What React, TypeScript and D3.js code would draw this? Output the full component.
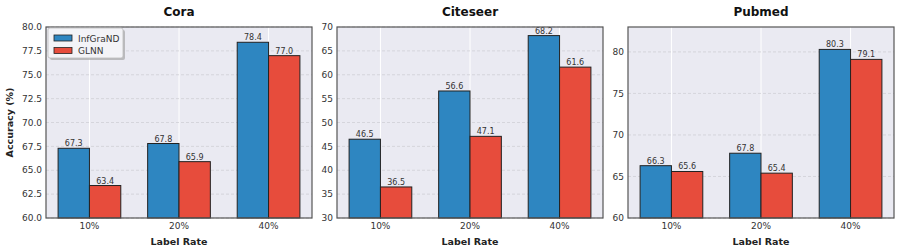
import React, { useEffect, useRef } from "react";
import * as d3 from "d3";

const rates = ["10%", "20%", "40%"];
const datasets = ["Cora", "Citeseer", "Pubmed"];
const infgrand = [
  [67.3, 67.8, 78.4],
  [46.5, 56.6, 68.2],
  [66.3, 67.8, 80.3],
];
const glnn = [
  [63.4, 65.9, 77.0],
  [36.5, 47.1, 61.6],
  [65.6, 65.4, 79.1],
];
const yDomains: [number, number][] = [
  [60, 80],
  [30, 70],
  [60, 83],
];
const yTicks = [
  [60, 62.5, 65, 67.5, 70, 72.5, 75, 77.5, 80],
  [30, 35, 40, 45, 50, 55, 60, 65, 70],
  [60, 65, 70, 75, 80],
];
const tickFormats = [".1f", "d", "d"];
const seriesNames = ["InfGraND", "GLNN"];
const colors = ["#2E86C1", "#E74C3C"];

const W = 897;
const H = 252;
const panelLefts = [46, 337, 628];
const panelW = 266;
const top = 27;
const bottom = 218;
const barW = 0.35;
const font = "DejaVu Sans, sans-serif";

const App = () => {
  const svgRef = useRef<SVGSVGElement>(null);

  useEffect(() => {
    const svg = d3.select(svgRef.current);
    svg.selectAll("*").remove();
    svg.style("font-family", font);

    datasets.forEach((name, i) => {
      const left = panelLefts[i];
      const x = d3.scaleLinear().domain([-0.485, 2.485]).range([left, left + panelW]);
      const y = d3.scaleLinear().domain(yDomains[i]).range([bottom, top]);
      const g = svg.append("g");

      g.append("rect")
        .attr("x", left)
        .attr("y", top)
        .attr("width", panelW)
        .attr("height", bottom - top)
        .attr("fill", "#EAEAF2");

      // vertical white grid at categories
      g.selectAll(".vg")
        .data(rates)
        .enter()
        .append("line")
        .attr("x1", (_, j) => x(j))
        .attr("x2", (_, j) => x(j))
        .attr("y1", top)
        .attr("y2", bottom)
        .attr("stroke", "#ffffff")
        .attr("stroke-width", 1);

      // horizontal dashed grid
      g.selectAll(".hg")
        .data(yTicks[i])
        .enter()
        .append("line")
        .attr("x1", left)
        .attr("x2", left + panelW)
        .attr("y1", (d) => y(d))
        .attr("y2", (d) => y(d))
        .attr("stroke", "#cfcfd6")
        .attr("stroke-width", 0.8)
        .attr("stroke-dasharray", "3,2");

      const series = [infgrand[i], glnn[i]];
      series.forEach((vals, s) => {
        const off = s === 0 ? -barW / 2 : barW / 2;
        g.selectAll(".bar" + s)
          .data(vals)
          .enter()
          .append("rect")
          .attr("x", (_, j) => x(j + off - barW / 2))
          .attr("width", x(barW) - x(0))
          .attr("y", (d) => y(d))
          .attr("height", (d) => bottom - y(d))
          .attr("fill", colors[s])
          .attr("stroke", "#222")
          .attr("stroke-width", 1);

        g.selectAll(".lbl" + s)
          .data(vals)
          .enter()
          .append("text")
          .attr("x", (_, j) => x(j + off))
          .attr("y", (d) => y(d) - 2)
          .attr("text-anchor", "middle")
          .attr("font-size", 8)
          .attr("fill", "#333")
          .text((d) => d.toFixed(1));
      });

      // frame
      g.append("rect")
        .attr("x", left)
        .attr("y", top)
        .attr("width", panelW)
        .attr("height", bottom - top)
        .attr("fill", "none")
        .attr("stroke", "#555")
        .attr("stroke-width", 1.2);

      // y ticks
      const fmt = d3.format(tickFormats[i]);
      g.selectAll(".yt")
        .data(yTicks[i])
        .enter()
        .append("text")
        .attr("x", left - 4)
        .attr("y", (d) => y(d) + 3.2)
        .attr("text-anchor", "end")
        .attr("font-size", 9)
        .attr("fill", "#333")
        .text((d) => fmt(d));

      // x ticks
      g.selectAll(".xt")
        .data(rates)
        .enter()
        .append("text")
        .attr("x", (_, j) => x(j))
        .attr("y", 229)
        .attr("text-anchor", "middle")
        .attr("font-size", 9)
        .attr("fill", "#333")
        .text((d) => d);

      g.append("text")
        .attr("x", left + panelW / 2)
        .attr("y", 245)
        .attr("text-anchor", "middle")
        .attr("font-size", 9.5)
        .attr("font-weight", "bold")
        .attr("fill", "#222")
        .text("Label Rate");

      g.append("text")
        .attr("x", left + panelW / 2)
        .attr("y", 16)
        .attr("text-anchor", "middle")
        .attr("font-size", 12)
        .attr("font-weight", "bold")
        .attr("fill", "#111")
        .text(name);
    });

    // y label
    svg.append("text")
      .attr("transform", `translate(13,${(top + bottom) / 2}) rotate(-90)`)
      .attr("text-anchor", "middle")
      .attr("font-size", 9.5)
      .attr("font-weight", "bold")
      .attr("fill", "#222")
      .text("Accuracy (%)");

    // legend
    const lg = svg.append("g");
    lg.append("rect")
      .attr("x", 50)
      .attr("y", 30)
      .attr("width", 75)
      .attr("height", 30)
      .attr("rx", 2)
      .attr("fill", "#999")
      .attr("opacity", 0.6);
    lg.append("rect")
      .attr("x", 48)
      .attr("y", 28)
      .attr("width", 75)
      .attr("height", 30)
      .attr("rx", 2)
      .attr("fill", "#F3F3F7")
      .attr("stroke", "#bbb")
      .attr("stroke-width", 0.8);
    seriesNames.forEach((n, s) => {
      lg.append("rect")
        .attr("x", 54)
        .attr("y", 35 + s * 12.5)
        .attr("width", 18)
        .attr("height", 6)
        .attr("fill", colors[s])
        .attr("stroke", "#222")
        .attr("stroke-width", 0.8);
      lg.append("text")
        .attr("x", 78)
        .attr("y", 41.5 + s * 12.5)
        .attr("font-size", 9)
        .attr("fill", "#333")
        .text(n);
    });
  }, []);

  return (
    <svg ref={svgRef} width={W} height={H} style={{ display: "block", position: "absolute", left: 0, top: 0 }} />
  );
};

export default App;
